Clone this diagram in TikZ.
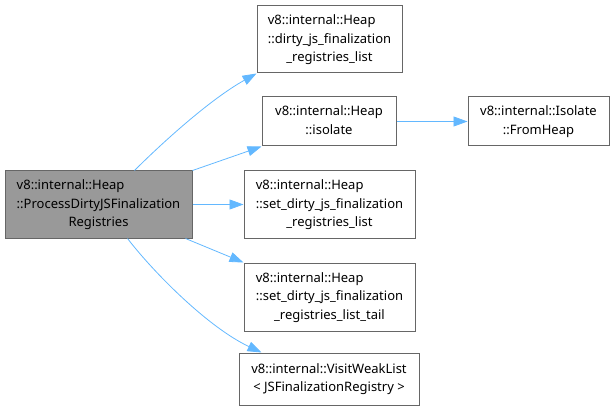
\documentclass[tikz,border=0pt]{standalone}
\usepackage{fontspec}
\setmainfont{Noto Sans}
\usetikzlibrary{arrows.meta,calc}
\definecolor{edgeblue}{HTML}{63B8FF}
\definecolor{boxgray}{HTML}{666666}
\definecolor{fillgray}{HTML}{999999}
\newcommand{\lbl}[2]{\begin{tabular}{@{}l@{}}#1\\\multicolumn{1}{@{}c@{}}{#2}\end{tabular}}
\begin{document}
\begin{tikzpicture}[x=1pt,y=-1pt,
  box/.style={draw=boxgray,line width=1pt,fill=white,align=center,inner sep=0pt,
    font=\fontsize{13}{18.5}\selectfont,text=black},
  edge/.style={draw=edgeblue,line width=0.8pt,-{Triangle[length=14pt,width=10pt]}}]
\useasboundingbox (0,0) rectangle (616,409);
\node[box,fill=fillgray,minimum width=187pt,minimum height=67pt] (L) at (98.5,204.5) {\lbl{v8::internal::Heap\\::ProcessDirtyJSFinalization}{Registries}};
\node[box,minimum width=145pt,minimum height=67pt] (N1) at (329.5,39.5) {\lbl{v8::internal::Heap\\::dirty\_js\_finalization}{\_registries\_list}};
\node[box,minimum width=134pt,minimum height=49pt] (N2) at (329,121.5) {\lbl{v8::internal::Heap}{::isolate}};
\node[box,minimum width=141pt,minimum height=49pt] (N3) at (538.5,121.5) {\lbl{v8::internal::Isolate}{::FromHeap}};
\node[box,minimum width=171pt,minimum height=67pt] (N4) at (329.5,204.5) {\lbl{v8::internal::Heap\\::set\_dirty\_js\_finalization}{\_registries\_list}};
\node[box,minimum width=171pt,minimum height=68pt] (N5) at (329.5,297) {\lbl{v8::internal::Heap\\::set\_dirty\_js\_finalization}{\_registries\_list\_tail}};
\node[box,minimum width=180pt,minimum height=52pt] (N6) at (329,379) {\lbl{v8::internal::VisitWeakList}{< JSFinalizationRegistry >}};
\draw[edge] ($(L.north west)+(130,0)$) .. controls ($(L.north west)+(160,-30)$) and ($(N1.south west)+(-45,25)$) .. (N1.south west);
\draw[edge] (L.north east) -- (N2.south west);
\draw[edge] (L.east) -- (N4.west);
\draw[edge] ($(L.south east)+(-7,0)$) -- (N5.north west);
\draw[edge] ($(L.south west)+(123,0)$) .. controls ($(L.south west)+(150,35)$) and ($(N6.north west)+(-30,-25)$) .. ($(N6.north west)+(23,0)$);
\draw[edge] (N2.east) -- (N3.west);
\end{tikzpicture}
\end{document}
